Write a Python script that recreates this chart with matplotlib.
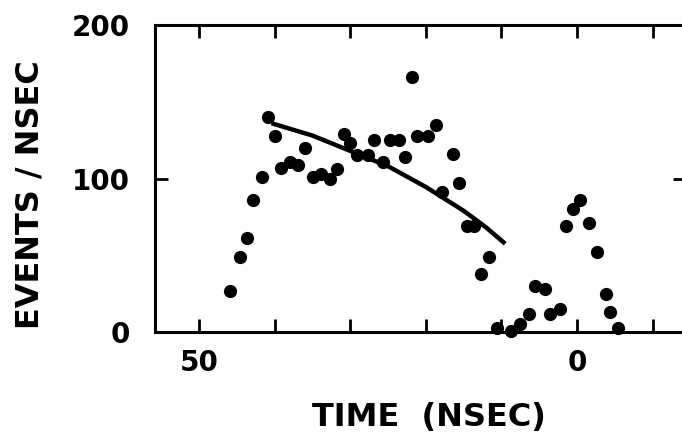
import matplotlib
matplotlib.use("Agg")
import matplotlib.pyplot as plt
from matplotlib.ticker import FixedLocator

# measured points (time in nsec, events / nsec)
time_ns = [45.9, 44.6, 43.7, 42.8, 41.6, 40.8, 39.9, 39.2, 37.9, 36.9,
           36.0, 34.9, 33.8, 32.7, 31.8, 30.8, 30.0, 29.1, 27.6, 26.8,
           25.6, 24.7, 23.6, 22.8, 21.8, 21.1, 19.75, 18.7, 17.8, 16.4,
           15.6, 14.6, 13.6, 12.7, 11.7, 10.6, 8.7, 7.6, 6.4, 5.6,
           4.2, 3.6, 2.3, 1.5, 0.6, -0.4, -1.6, -2.6, -3.8, -4.3, -5.4]
events = [27, 49, 61, 86, 101, 140, 128, 107, 111, 109,
          120, 101, 103, 100, 106, 129, 123, 115, 115, 125,
          111, 125, 125, 114, 166, 128, 128, 135, 91, 116,
          97, 69, 69, 38, 49, 2.4, 0.8, 5, 12, 30,
          28, 12, 15, 69, 80, 86, 71, 52, 25, 13, 2.4]

# fitted curve
fit_time = [40.4, 35.0, 30.0, 25.0, 20.0, 15.0, 12.0, 9.5]
fit_events = [136, 128, 118, 108, 94.5, 79, 68, 57.5]

font = "DejaVu Sans"

fig = plt.figure(figsize=(6.82, 4.42), dpi=100)
ax = fig.add_axes([155 / 682, (442 - 332) / 442, (686 - 155) / 682, (332 - 25) / 442])

ax.plot(fit_time, fit_events, color="black", lw=3.2, solid_capstyle="butt")
ax.plot(time_ns, events, "o", color="black", ms=8.5, clip_on=False)

ax.set_xlim(55.8, -14.4)
ax.set_ylim(0, 200)

ax.xaxis.set_major_locator(FixedLocator([50, 40, 30, 20, 10, 0, -10]))
ax.set_xticklabels(["50", "", "", "", "", "0", ""], fontsize=20,
                   family=font, fontweight="bold")
ax.set_yticks([0, 100, 200])
ax.set_yticklabels(["0", "100", "200"], fontsize=20, family=font,
                   fontweight="bold")

ax.tick_params(direction="in", length=9.5, width=2, top=True, right=True,
               color="black")
ax.tick_params(axis="x", pad=12)
ax.tick_params(axis="y", pad=18)
for s in ax.spines.values():
    s.set_linewidth(2.2)

ax.set_xlabel("TIME  (NSEC)", fontsize=23, family=font, fontweight="bold")
ax.set_ylabel("EVENTS / NSEC", fontsize=23, family=font, fontweight="bold")
ax.xaxis.set_label_coords(0.516, -0.28)
ax.yaxis.set_label_coords(-0.235, 0.446)
ax.xaxis.label.set_va("center")
ax.yaxis.label.set_va("center")

fig.savefig("out.png", dpi=100)
